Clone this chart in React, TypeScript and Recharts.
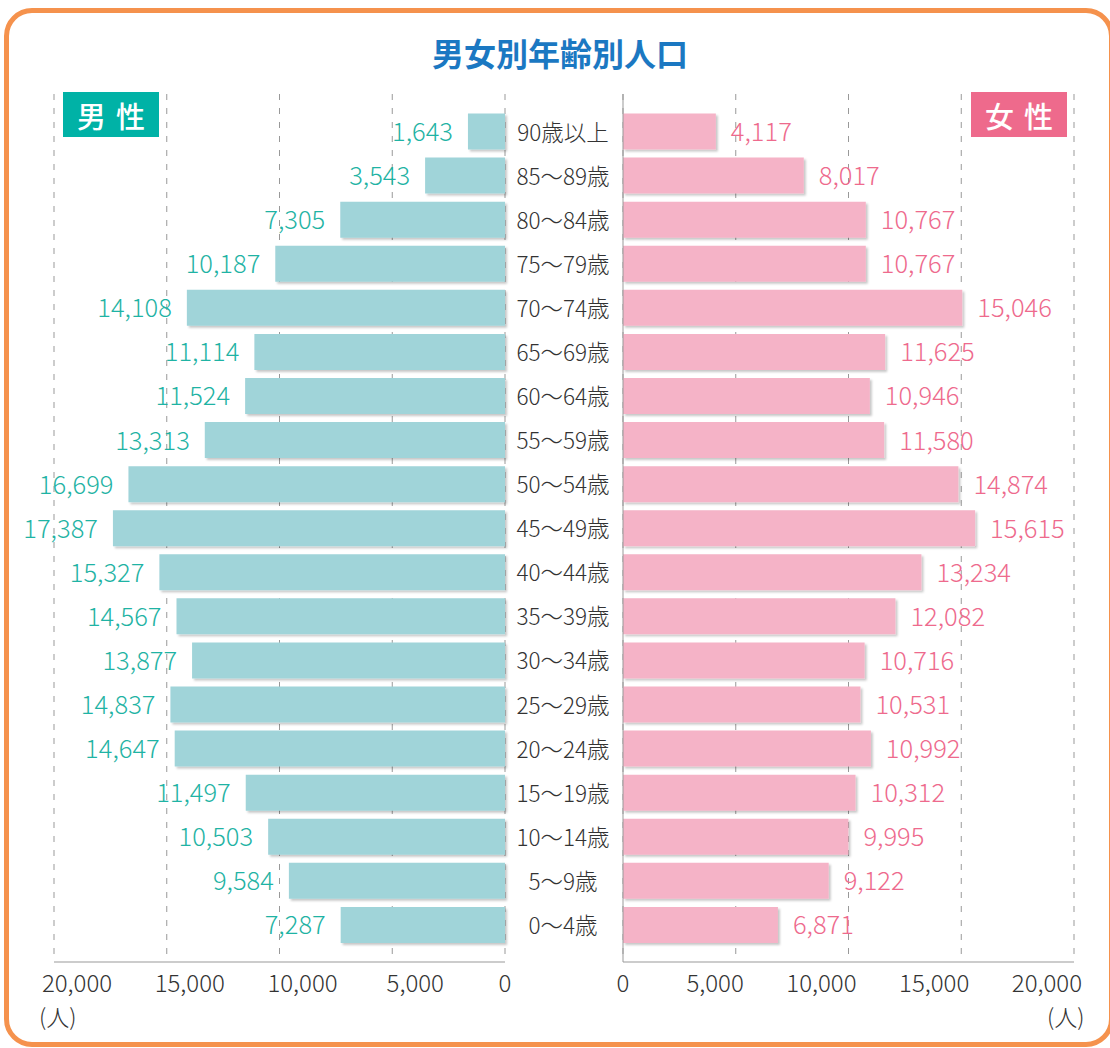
import { BarChart, Bar, XAxis, YAxis, CartesianGrid, LabelList } from 'recharts'

const ages = [
  '90歳以上', '85〜89歳', '80〜84歳', '75〜79歳', '70〜74歳', '65〜69歳', '60〜64歳',
  '55〜59歳', '50〜54歳', '45〜49歳', '40〜44歳', '35〜39歳', '30〜34歳', '25〜29歳',
  '20〜24歳', '15〜19歳', '10〜14歳', '5〜9歳', '0〜4歳',
]
const male = [
  1643, 3543, 7305, 10187, 14108, 11114, 11524, 13313, 16699, 17387,
  15327, 14567, 13877, 14837, 14647, 11497, 10503, 9584, 7287,
]
const female = [
  4117, 8017, 10767, 10767, 15046, 11625, 10946, 11580, 14874, 15615,
  13234, 12082, 10716, 10531, 10992, 10312, 9995, 9122, 6871,
]
const xTicks = [0, 5000, 10000, 15000, 20000]

const data = ages.map((age, i) => ({ age, male: male[i], female: female[i] }))

const FONT = '"Noto Sans CJK JP", "Noto Sans", sans-serif'
const fmt = (v: number) => v.toLocaleString('en-US')

// bottom tick labels: sit off-centre from the grid lines, like the original
function LeftXTick(p: any) {
  const v = p.payload.value
  return (
    <text x={v === 0 ? p.x : p.x + 23} y={p.y} dy="0.71em" textAnchor="middle"
      fill="#333" fontSize={24} fontFamily={FONT} fontWeight={300}>
      {fmt(v)}
    </text>
  )
}

function RightXTick(p: any) {
  const v = p.payload.value
  return (
    <text x={v === 0 ? p.x : p.x + 8} y={p.y} dy="0.71em" textAnchor={v === 0 ? 'middle' : 'end'}
      fill="#333" fontSize={24} fontFamily={FONT} fontWeight={300}>
      {fmt(v)}
    </text>
  )
}

function MaleLabel(p: any) {
  const left = Math.min(p.x, p.x + p.width)
  return (
    <text x={left - 15} y={p.y + p.height / 2 - 2} textAnchor="end" dominantBaseline="central"
      fill="#1fb3a4" fontSize={25.5} fontFamily={FONT} fontWeight={300}>
      {fmt(p.value)}
    </text>
  )
}

function FemaleLabel(p: any) {
  const right = Math.max(p.x, p.x + p.width)
  return (
    <text x={right + 15} y={p.y + p.height / 2 - 2} textAnchor="start" dominantBaseline="central"
      fill="#ee6a8d" fontSize={25.5} fontFamily={FONT} fontWeight={300}>
      {fmt(p.value)}
    </text>
  )
}

function AgeTick(p: any) {
  return (
    <text x={58} y={p.y - 1} textAnchor="middle" dominantBaseline="central"
      fill="#333" fontSize={22.5} fontFamily={FONT} fontWeight={300}>
      {p.payload.value}
    </text>
  )
}

const badge = {
  position: 'absolute' as const, top: 92, width: 96, height: 45, color: '#fff',
  fontSize: 29, fontWeight: 500, fontFamily: FONT, display: 'flex',
  alignItems: 'center', justifyContent: 'center', letterSpacing: 10, paddingLeft: 10,
  boxSizing: 'border-box' as const,
}

const unit = { position: 'absolute' as const, top: 999, fontFamily: FONT, fontSize: 23, fontWeight: 300, color: '#333' }

export default function App() {
  return (
    <div style={{ position: 'relative', width: 1110, height: 1048, overflow: 'hidden', background: '#fff' }}>
      <style>{'body{margin:0}'}</style>
      <svg width={0} height={0} style={{ position: 'absolute' }}>
        <defs>
          <filter id="barShadow" x="-5%" y="-20%" width="115%" height="150%">
            <feDropShadow dx={2} dy={2} stdDeviation={1.2} floodColor="#000" floodOpacity={0.22} />
          </filter>
        </defs>
      </svg>
      <div style={{
        position: 'absolute', left: 4, top: 8, width: 1110, height: 1039,
        border: '5px solid #f5924d', borderRadius: 28, boxSizing: 'border-box',
      }} />
      <div style={{
        position: 'absolute', left: 0, width: 1120, top: 29, textAlign: 'center',
        fontFamily: FONT, fontWeight: 700, fontSize: 32, color: '#1b78c2',
      }}>男女別年齢別人口</div>

      <div style={{ position: 'absolute', left: 0, top: 0 }}>
        <BarChart width={525} height={1048} layout="vertical" data={data}
          margin={{ top: 94, right: 20, left: 54, bottom: 46 }}>
          <CartesianGrid horizontal={false} stroke="#999" strokeDasharray="6 8" />
          <XAxis type="number" domain={[0, 20000]} ticks={xTicks} reversed
            tick={<LeftXTick />} tickLine={false} height={40} tickMargin={7}
            axisLine={{ stroke: '#999' }} interval={0} />
          <YAxis type="category" dataKey="age" orientation="right" width={0} tick={false}
            tickLine={false} axisLine={{ stroke: '#999' }} padding={{ top: 15.5, bottom: 15 }} />
          <Bar dataKey="male" fill="#a0d4d9" barSize={36} isAnimationActive={false} filter="url(#barShadow)">
            <LabelList dataKey="male" content={<MaleLabel />} />
          </Bar>
        </BarChart>
      </div>

      <div style={{ position: 'absolute', left: 505, top: 0 }}>
        <BarChart width={605} height={1048} layout="vertical" data={data}
          margin={{ top: 94, right: 36, left: 0, bottom: 46 }}>
          <CartesianGrid horizontal={false} stroke="#999" strokeDasharray="6 8" />
          <XAxis type="number" domain={[0, 20000]} ticks={xTicks}
            tick={<RightXTick />} tickLine={false} height={40} tickMargin={7}
            axisLine={{ stroke: '#999' }} interval={0} />
          <YAxis type="category" dataKey="age" orientation="left" width={118} tick={<AgeTick />}
            tickLine={false} axisLine={{ stroke: '#999' }} padding={{ top: 15.5, bottom: 15 }} />
          <Bar dataKey="female" fill="#f5b3c7" barSize={36} isAnimationActive={false} filter="url(#barShadow)">
            <LabelList dataKey="female" content={<FemaleLabel />} />
          </Bar>
        </BarChart>
      </div>

      <div style={{ ...badge, left: 63, background: '#00b2a6' }}>男性</div>
      <div style={{ ...badge, left: 971, background: '#ee6a8c' }}>女性</div>

      <div style={{ ...unit, left: 39 }}>(人)</div>
      <div style={{ ...unit, left: 1047 }}>(人)</div>
    </div>
  )
}
